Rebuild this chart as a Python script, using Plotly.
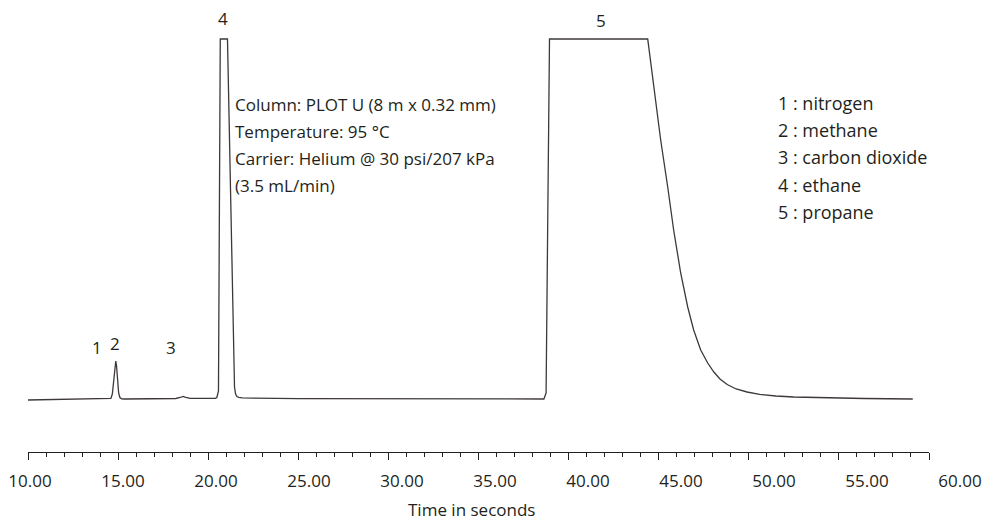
import plotly.graph_objects as go

# ---------------- data ----------------
time_s = [10.0, 11.0, 12.0, 13.0, 14.0, 14.5, 14.6, 14.68, 14.76, 14.83, 14.87, 14.91,
          14.97, 15.03, 15.1, 15.2, 15.35, 16.0, 17.0, 18.2, 18.45, 18.6, 18.75, 19.0,
          20.0, 20.4, 20.48, 20.57, 20.67, 21.07, 21.46, 21.52, 21.59, 21.7, 21.9, 22.5,
          25.0, 30.0, 35.0, 38.0, 38.63, 38.75, 38.94, 44.39, 44.72, 45.11, 45.5, 45.83,
          46.22, 46.61, 46.94, 47.33, 47.72, 48.06, 48.4, 48.8, 49.3, 49.9, 50.6, 51.5,
          52.5, 54.0, 56.4, 59.1]
signal = [0.0, 0.2, 0.4, 0.6, 0.9, 1.0, 1.6, 6, 20, 35, 39, 35,
          20, 7, 2.5, 1.2, 1.0, 1.2, 1.4, 1.5, 2.5, 3.6, 2.6, 1.6,
          1.6, 1.7, 2.5, 9, 361, 361, 13, 6, 3.5, 2.6, 2.2, 1.8,
          1.4, 1.2, 1.0, 0.9, 1.0, 7, 361, 361, 313, 260, 213, 170,
          127, 93, 70, 50, 37, 28, 21, 15.5, 11, 8, 5.6, 4.0,
          3.0, 2.2, 1.5, 1.0]

peak_ids = ["1", "2", "3", "4", "5"]
peak_label_t = [13.82, 14.83, 17.94, 20.83, 41.78]
peak_label_v = [53, 57, 53, 382, 380]

compounds = ["nitrogen", "methane", "carbon dioxide", "ethane", "propane"]
conditions = ["Column: PLOT U (8 m x 0.32 mm)",
              "Temperature: 95 °C",
              "Carrier: Helium @ 30 psi/207 kPa",
              "(3.5 mL/min)"]

tick_values = [10, 15, 20, 25, 30, 35, 40, 45, 50, 55, 60]
tick_labels = ["10.00", "15.00", "20.00", "25.00", "30.00", "35.00",
               "40.00", "45.00", "50.00", "55.00", "60.00"]
x_title = "Time in seconds"

# ---------------- style ----------------
W, H = 985, 520
PLOT_TOP, AXIS_Y = 0, 452
INK = "#231f20"
LINE = "#3e383b"
FONT = "Open Sans"

def py(p):
    """pixel row -> paper y"""
    return (AXIS_Y - p) / (AXIS_Y - PLOT_TOP)

def px(p):
    return p / W

fig = go.Figure()
fig.add_trace(go.Scatter(x=time_s, y=signal, mode="lines",
                         line=dict(color=LINE, width=1.3), hoverinfo="skip",
                         showlegend=False))
# empty trace on the label axis so that axis is drawn
fig.add_trace(go.Scatter(x=[tick_values[0]], y=[None], xaxis="x2", yaxis="y", mode="lines",
                         showlegend=False, hoverinfo="skip"))

annotations = []
for pid, t, v in zip(peak_ids, peak_label_t, peak_label_v):
    annotations.append(dict(x=t, y=v, xref="x", yref="y", text=pid, showarrow=False,
                            font=dict(family=FONT, size=17, color=INK),
                            xanchor="center", yanchor="middle"))
cond_y = [105, 131.7, 158.5, 185]
for txt, yy in zip(conditions, cond_y):
    annotations.append(dict(x=px(233), y=py(yy), xref="paper", yref="paper", text=txt,
                            showarrow=False, xanchor="left", yanchor="middle",
                            font=dict(family=FONT, size=17, color=INK)))
leg_y = [103, 130, 157.5, 184.5, 211.5]
for i, (name, yy) in enumerate(zip(compounds, leg_y)):
    annotations.append(dict(x=px(776), y=py(yy), xref="paper", yref="paper",
                            text=f"{peak_ids[i]} : {name}",
                            showarrow=False, xanchor="left", yanchor="middle",
                            font=dict(family=FONT, size=18, color=INK)))
annotations.append(dict(x=px(471), y=py(509), xref="paper", yref="paper", text=x_title,
                        showarrow=False, xanchor="center", yanchor="middle",
                        font=dict(family=FONT, size=17, color=INK)))

lbl_scale = 18.6
fig.update_layout(
    width=W, height=H,
    margin=dict(l=0, r=0, t=PLOT_TOP, b=H - AXIS_Y, pad=0),
    paper_bgcolor="white", plot_bgcolor="rgba(0,0,0,0)",
    showlegend=False,
    xaxis=dict(domain=[28 / W, 929 / W], range=[10, 60], showgrid=False, zeroline=False,
               showline=True, linecolor=INK, linewidth=1.3,
               ticks="outside", ticklen=7, tickwidth=1.2, tickcolor=INK,
               tick0=10, dtick=5, showticklabels=False,
               minor=dict(ticks="outside", ticklen=4, tickwidth=1.2, tickcolor=INK, dtick=1),
               automargin=False, fixedrange=True),
    xaxis2=dict(domain=[0, 1], anchor="y", side="bottom",
                range=[10 - 30 / lbl_scale, 10 + (W - 30) / lbl_scale],
                showgrid=False, zeroline=False, showline=False,
                tickmode="array", tickvals=tick_values, ticktext=tick_labels,
                ticks="outside", ticklen=14, tickcolor="rgba(0,0,0,0)",
                tickfont=dict(family=FONT, size=17, color=INK),
                automargin=False, fixedrange=True),
    yaxis=dict(range=[-52, 400], visible=False, fixedrange=True),
    annotations=annotations,
)

fig.write_html("out.html", config={"displayModeBar": False})
